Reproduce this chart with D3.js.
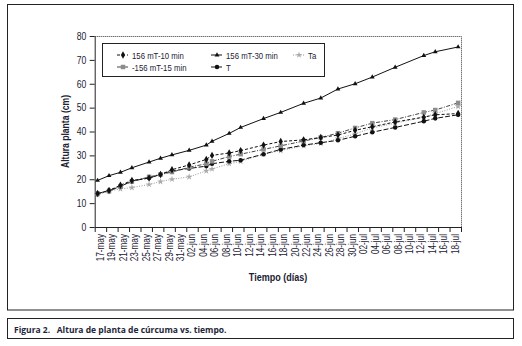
<!DOCTYPE html>
<html>
<head>
<meta charset="utf-8">
<script src="https://cdn.jsdelivr.net/npm/d3@7"></script>
<style>
  body { margin: 0; background: #fff; }
  svg text { font-family: "Liberation Sans", Arial, sans-serif; fill: #1c2233; }
</style>
</head>
<body>
<script>
// fechas de medición (día-mes)
var fechas = ["17-05","19-05","21-05","23-05","26-05","28-05","30-05","02-06","05-06","06-06",
              "09-06","11-06","15-06","18-06","22-06","25-06","28-06","01-07","04-07","08-07",
              "13-07","15-07","19-07"];

// altura de planta (cm) por tratamiento
var t10 = [14.0,15.3,17.5,19.5,20.5,22.0,24.0,26.0,28.3,30.0,31.0,32.0,34.3,35.8,36.5,37.5,38.5,40.5,42.0,44.0,46.0,47.0,47.5];
var t15 = [14.0,15.0,17.0,19.0,21.0,22.0,23.0,25.0,26.5,27.5,29.5,30.5,32.5,34.0,36.0,37.5,39.3,41.5,43.5,45.0,48.0,49.0,52.0];
var t30 = [19.5,21.5,22.9,24.8,27.2,28.8,30.2,32.1,34.3,35.9,39.2,41.7,45.4,48.0,51.8,54.0,57.8,60.0,62.8,66.9,71.8,73.4,75.4];
var tT  = [14.0,15.3,17.0,19.3,20.5,22.0,23.5,24.5,25.5,26.5,27.5,28.0,30.5,32.5,34.3,35.3,36.3,38.0,39.7,41.7,44.3,45.5,47.0];
var tTa = [13.5,15.0,16.0,16.5,17.8,19.0,20.0,21.0,23.5,24.3,26.5,27.5,30.5,32.0,34.0,35.0,37.0,39.0,41.5,43.5,46.0,47.5,50.5];

var nombres = ["156 mT-10 min", "-156 mT-15 min", "156 mT-30 min", "T", "Ta"];

var etiquetasX = ["17-may","19-may","21-may","23-may","25-may","27-may","29-may","31-may",
                  "02-jun","04-jun","06-jun","08-jun","10-jun","12-jun","14-jun","16-jun","18-jun",
                  "20-jun","22-jun","24-jun","26-jun","28-jun","30-jun",
                  "02-jul","04-jul","06-jul","08-jul","10-jul","12-jul","14-jul","16-jul","18-jul"];
var ticksY = [0, 10, 20, 30, 40, 50, 60, 70, 80];

function dibujar() {
    var width = 522, height = 346;
    var left = 94.7, right = 461, top = 36, bottom = 227;
    var dia = 864e5;
    var k = 0.82; // letra estrecha
    var meses = {may: 4, jun: 5, jul: 6};

    function fecha(s) { // "17-05"
        var p = s.split("-");
        return new Date(Date.UTC(2008, +p[1] - 1, +p[0]));
    }
    function fechaEtiqueta(s) { // "17-may"
        var p = s.split("-");
        return new Date(Date.UTC(2008, meses[p[1]], +p[0]));
    }
    function texto(g, px, py, rot, s) {
        return g.append("text")
            .attr("transform", "translate(" + px + "," + py + ")" + (rot ? " rotate(" + rot + ")" : "") + " scale(" + k + ",1)")
            .text(s);
    }

    var svg = d3.select("body").append("svg")
        .attr("width", width).attr("height", height);

    svg.append("rect").attr("width", width).attr("height", height).attr("fill", "#fff");

    // marcos
    svg.append("rect").attr("x", 7.5).attr("y", 4.5).attr("width", 506).attr("height", 305.5)
        .attr("fill", "none").attr("stroke", "#222").attr("stroke-width", 1);
    svg.append("rect").attr("x", 7.5).attr("y", 318.5).attr("width", 506).attr("height", 20)
        .attr("fill", "none").attr("stroke", "#222").attr("stroke-width", 1);

    svg.append("text").attr("x", 14).attr("y", 332.5)
        .style("font-family", "'Open Sans', 'Noto Sans', sans-serif")
        .style("font-weight", "bold").style("font-size", "8.5px").style("fill", "#1e2638")
        .attr("xml:space", "preserve")
        .text("Figura 2.   Altura de planta de cúrcuma vs. tiempo.");

    var primera = fechaEtiqueta(etiquetasX[0]);
    var ultima = fechaEtiqueta(etiquetasX[etiquetasX.length - 1]);
    var x = d3.scaleUtc()
        .domain([new Date(+primera - dia / 2), new Date(+ultima + dia * 1.5)])
        .range([left, right]);
    var y = d3.scaleLinear().domain([0, 80]).range([bottom, top]);

    // borde superior y derecho
    svg.append("path")
        .attr("d", "M" + left + "," + (top + 0.5) + "H" + (right + 0.5) + "V" + bottom)
        .attr("fill", "none").attr("stroke", "#333").attr("stroke-width", 1)
        .attr("stroke-dasharray", "1,1");

    // eje y
    var yAxis = d3.axisLeft(y).tickValues(ticksY).tickSize(5).tickSizeOuter(0).tickPadding(3);
    var gy = svg.append("g").attr("transform", "translate(" + left + ",0)").call(yAxis);
    gy.selectAll("text").style("font-size", "10.5px").style("font-family", null).attr("fill", null)
        .attr("x", -8.5 / k).attr("transform", "scale(" + k + ",1)");
    gy.selectAll("line, path").attr("stroke", "#222");

    // eje x: marcas entre categorías
    var bordes = etiquetasX.map(function(s) { return new Date(+fechaEtiqueta(s) - dia / 2); });
    bordes.push(x.domain()[1]);
    var xAxis = d3.axisBottom(x).tickValues(bordes).tickFormat("").tickSize(5).tickSizeOuter(0);
    var gx = svg.append("g").attr("transform", "translate(0," + bottom + ")").call(xAxis);
    gx.selectAll("line, path").attr("stroke", "#222");

    var gl = svg.append("g").style("font-size", "10px").attr("text-anchor", "end");
    etiquetasX.forEach(function(d) {
        texto(gl, x(new Date(+fechaEtiqueta(d) + dia / 2)) + 3.5, bottom + 7, -90, d);
    });

    // títulos de ejes
    texto(svg, 278, 280.5, 0, "Tiempo (días)")
        .attr("text-anchor", "middle").style("font-weight", "bold").style("font-size", "11px");
    texto(svg, 68.5, 131.5, -90, "Altura planta (cm)")
        .attr("text-anchor", "middle").style("font-weight", "bold").style("font-size", "10.5px");

    // series
    var series = [
        {nombre: nombres[4], valores: tTa, color: "#9a9a9a", dash: "1,1.5", marca: d3.symbolStar, tam: 14, relleno: "#aaa"},
        {nombre: nombres[3], valores: tT,  color: "#111", dash: "5,2", marca: d3.symbolCircle, tam: 16, relleno: "#111"},
        {nombre: nombres[1], valores: t15, color: "#444", dash: "4,1.5,1,1.5", marca: d3.symbolSquare, tam: 20, relleno: "#8c8c8c"},
        {nombre: nombres[0], valores: t10, color: "#111", dash: "3,2", marca: d3.symbolDiamond, tam: 16, relleno: "#111"},
        {nombre: nombres[2], valores: t30, color: "#111", dash: null, marca: d3.symbolTriangle, tam: 10, relleno: "#111"}
    ];

    var linea = d3.line()
        .x(function(d, i) { return x(fecha(fechas[i])); })
        .y(function(d) { return y(d); });

    series.forEach(function(s) {
        var g = svg.append("g");
        g.append("path").datum(s.valores).attr("d", linea)
            .attr("fill", "none").attr("stroke", s.color).attr("stroke-width", 1)
            .attr("stroke-dasharray", s.dash);
        g.selectAll("path.m").data(s.valores).enter().append("path").attr("class", "m")
            .attr("d", d3.symbol().type(s.marca).size(s.tam))
            .attr("transform", function(d, i) { return "translate(" + x(fecha(fechas[i])) + "," + y(d) + ")"; })
            .attr("fill", s.relleno);
    });

    // leyenda
    var leyenda = svg.append("g").style("font-size", "9.5px");
    leyenda.append("rect").attr("x", 102.5).attr("y", 43.5).attr("width", 222).attr("height", 33)
        .attr("fill", "#fff").attr("stroke", "#222").attr("stroke-width", 1);
    var pos = {};
    pos[nombres[0]] = [117, 55]; pos[nombres[2]] = [211, 55]; pos[nombres[4]] = [293, 55];
    pos[nombres[1]] = [117, 67]; pos[nombres[3]] = [211, 67];
    series.forEach(function(s) {
        var p = pos[s.nombre];
        leyenda.append("line").attr("x1", p[0]).attr("x2", p[0] + 11).attr("y1", p[1]).attr("y2", p[1])
            .attr("stroke", s.color).attr("stroke-dasharray", s.dash);
        leyenda.append("path").attr("d", d3.symbol().type(s.marca).size(s.tam)())
            .attr("transform", "translate(" + (p[0] + 6) + "," + p[1] + ")").attr("fill", s.relleno);
        texto(leyenda, p[0] + 15, p[1] + 3.5, 0, s.nombre);
    });
}
dibujar();
</script>
</body>
</html>
